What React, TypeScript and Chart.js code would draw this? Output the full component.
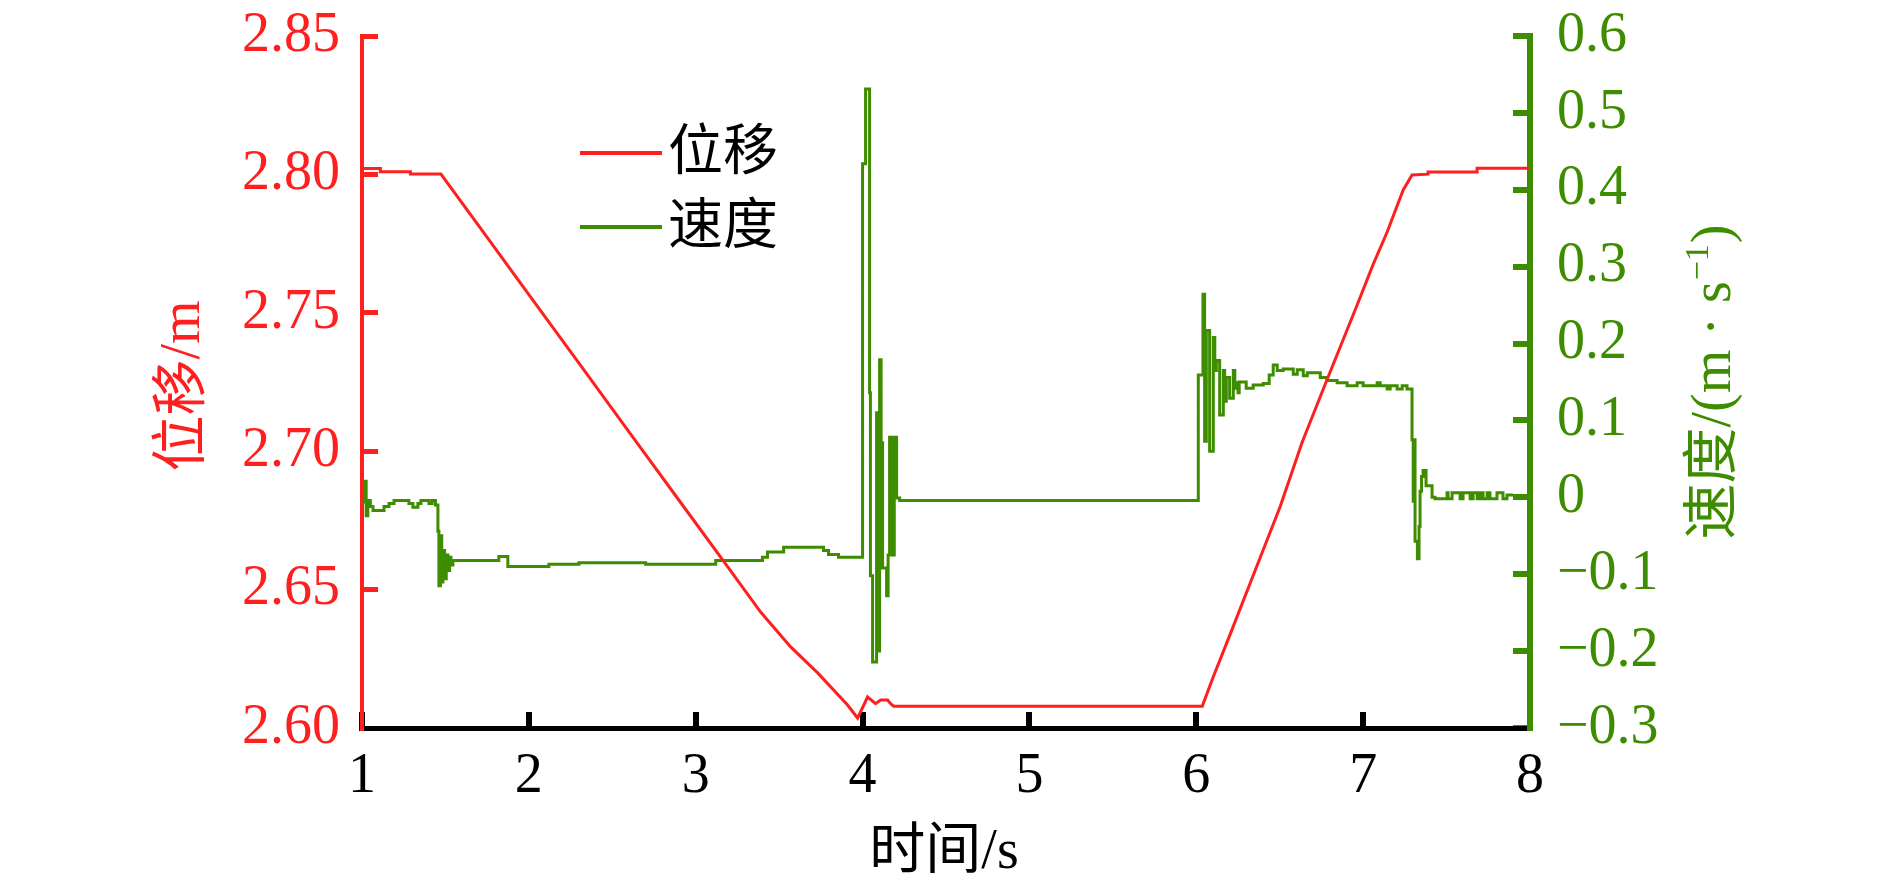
import React, { useEffect, useRef } from "react";
import { Chart, registerables } from "chart.js";

Chart.register(...registerables);

// ---------- data ----------
const timeTicks = [1, 2, 3, 4, 5, 6, 7, 8];
const dispTicks = [2.6, 2.65, 2.7, 2.75, 2.8, 2.85];
const velTicks = [-0.3, -0.2, -0.1, 0, 0.1, 0.2, 0.3, 0.4, 0.5, 0.6];

// displacement (m)
const dispT = [
  1.0, 1.11, 1.11, 1.29, 1.29, 1.473, 1.713, 2.012, 2.311, 2.611, 2.97, 3.192, 3.389,
  3.569, 3.731, 3.91, 3.97, 4.03, 4.078, 4.108, 4.15, 4.168, 4.186, 6.036, 6.102,
  6.204, 6.335, 6.503, 6.635, 6.784, 6.964, 7.06, 7.144, 7.24, 7.293, 7.389, 7.389,
  7.683, 7.683, 8.0,
];
const dispV = [
  2.8021, 2.8021, 2.801, 2.801, 2.8001, 2.8001, 2.7803, 2.7556, 2.7309, 2.7061, 2.6765,
  2.6582, 2.6419, 2.6293, 2.6199, 2.6083, 2.6036, 2.6112, 2.6088, 2.6101, 2.6101,
  2.6088, 2.6079, 2.6079, 2.6185, 2.634, 2.6542, 2.68, 2.7033, 2.7259, 2.7528,
  2.7675, 2.7792, 2.7944, 2.7998, 2.8001, 2.8009, 2.8009, 2.8022, 2.8022,
];

// velocity (m/s)
const velT = [
  1.0, 1.015, 1.025, 1.035, 1.05, 1.066, 1.132, 1.162, 1.192, 1.281, 1.305, 1.335,
  1.353, 1.401, 1.42, 1.44, 1.455, 1.461, 1.47, 1.478, 1.485, 1.495, 1.505, 1.515,
  1.525, 1.533, 1.545, 1.82, 1.874, 2.12, 2.3, 2.7, 3.12, 3.4, 3.43, 3.527, 3.766,
  3.796, 3.856, 4.0, 4.018, 4.042, 4.047, 4.06, 4.084, 4.093, 4.102, 4.111, 4.12,
  4.144, 4.153, 4.162, 4.176, 4.19, 4.204, 4.222, 6.012, 6.04, 6.05, 6.06, 6.08,
  6.102, 6.111, 6.12, 6.14, 6.162, 6.17, 6.18, 6.2, 6.222, 6.231, 6.24, 6.25, 6.257,
  6.299, 6.341, 6.401, 6.437, 6.461, 6.485, 6.521, 6.581, 6.605, 6.641, 6.665, 6.743,
  6.784, 6.844, 6.904, 6.964, 7.0, 7.084, 7.102, 7.144, 7.162, 7.204, 7.234, 7.263,
  7.293, 7.3, 7.305, 7.311, 7.325, 7.335, 7.341, 7.35, 7.359, 7.377, 7.413, 7.431,
  7.503, 7.509, 7.533, 7.581, 7.599, 7.641, 7.659, 7.683, 7.701, 7.719, 7.743, 7.76,
  7.802, 7.838, 7.862, 7.898, 8.0,
];
const velV = [
  -0.006, 0.021, -0.024, -0.004, -0.012, -0.017, -0.012, -0.008, -0.004, -0.008,
  -0.013, -0.008, -0.004, -0.008, -0.004, -0.01, -0.044, -0.115, -0.05, -0.11, -0.069,
  -0.106, -0.075, -0.095, -0.078, -0.088, -0.082, -0.077, -0.09, -0.087, -0.085,
  -0.087, -0.082, -0.078, -0.071, -0.065, -0.069, -0.0745, -0.078, 0.434, 0.531, 0.136,
  -0.102, -0.214, 0.11, -0.2, 0.179, 0.071, -0.092, -0.128, -0.075, 0.078, -0.075,
  0.078, -0.001, -0.004, 0.159, 0.264, 0.073, 0.217, 0.06, 0.208, 0.165, 0.178, 0.107,
  0.165, 0.125, 0.156, 0.129, 0.165, 0.142, 0.149, 0.136, 0.15, 0.142, 0.146, 0.148,
  0.159, 0.172, 0.165, 0.167, 0.16, 0.166, 0.158, 0.162, 0.156, 0.152, 0.149, 0.145,
  0.149, 0.145, 0.149, 0.145, 0.141, 0.145, 0.141, 0.145, 0.141, 0.075, -0.005, 0.075,
  -0.057, -0.08, -0.038, 0.008, 0.027, 0.035, 0.015, 0.0, -0.002, 0.006, -0.002,
  0.006, -0.002, 0.006, -0.002, 0.006, -0.002, 0.006, -0.002, 0.006, -0.002, 0.006,
  -0.002, 0.003, 0.003,
];

const seriesNames = ["位移", "速度"];
const axisTitles = { x: "时间/s", left: "位移/m", rightMain: "速度/(m · s", rightSup: "−1", rightEnd: ")" };

// ---------- styles ----------
const RED = "#ff1f1f";
const GREEN = "#3e8c00";
const FONT = "'Liberation Serif', 'Noto Sans CJK SC', serif";

const fmtVel = (v: number) => {
  if (Math.abs(v) < 1e-9) return "0";
  return v < 0 ? "−" + Math.abs(v).toFixed(1) : v.toFixed(1);
};

const overlayPlugin = {
  id: "overlay",
  afterDraw(chart: any) {
    const ctx = chart.ctx as CanvasRenderingContext2D;
    const ca = chart.chartArea;
    ctx.save();
    // legend
    const colors = [RED, GREEN];
    const legendYs = [ca.top + 117, ca.top + 191];
    seriesNames.forEach((name, i) => {
      const y = legendYs[i];
      ctx.strokeStyle = colors[i];
      ctx.lineWidth = 4;
      ctx.beginPath();
      ctx.moveTo(ca.left + 218, y);
      ctx.lineTo(ca.left + 300, y);
      ctx.stroke();
      ctx.fillStyle = "#000";
      ctx.font = `55px ${FONT}`;
      ctx.textBaseline = "middle";
      ctx.textAlign = "left";
      ctx.fillText(name, ca.left + 306, y + 2);
    });

    // x title
    ctx.fillStyle = "#000";
    ctx.font = `56px ${FONT}`;
    ctx.textAlign = "center";
    ctx.textBaseline = "middle";
    ctx.fillText(axisTitles.x, (ca.left + ca.right) / 2 - 2, 853);

    // left title
    ctx.save();
    ctx.translate(184, 386);
    ctx.rotate(-Math.PI / 2);
    ctx.fillStyle = RED;
    ctx.fillText(axisTitles.left, 0, 0);
    ctx.restore();

    // right title with superscript
    ctx.save();
    ctx.translate(1711, 383);
    ctx.rotate(-Math.PI / 2);
    ctx.fillStyle = GREEN;
    ctx.textAlign = "left";
    ctx.textBaseline = "alphabetic";
    const big = `56px ${FONT}`;
    const small = `34px ${FONT}`;
    ctx.font = big;
    const w1 = ctx.measureText(axisTitles.rightMain).width;
    const w3 = ctx.measureText(axisTitles.rightEnd).width;
    ctx.font = small;
    const w2 = ctx.measureText(axisTitles.rightSup).width;
    let x = -(w1 + w2 + w3) / 2;
    const base = 19;
    ctx.font = big;
    ctx.fillText(axisTitles.rightMain, x, base);
    x += w1;
    ctx.font = small;
    ctx.fillText(axisTitles.rightSup, x + 1, base - 22);
    x += w2 + 2;
    ctx.font = big;
    ctx.fillText(axisTitles.rightEnd, x, base);
    ctx.restore();

    ctx.restore();
  },
};

const zeroPad = (s: any) => {
  s.paddingTop = 0;
  s.paddingBottom = 0;
};

export default function App() {
  const ref = useRef<HTMLCanvasElement>(null);

  useEffect(() => {
    const dispData = dispT.map((t, i) => ({ x: t, y: dispV[i] }));
    const velData = velT.map((t, i) => ({ x: t, y: velV[i] }));
    const chart = new Chart(ref.current as HTMLCanvasElement, {
      type: "line",
      data: {
        datasets: [
          {
            label: seriesNames[0],
            data: dispData,
            yAxisID: "y",
            borderColor: RED,
            borderWidth: 3,
            pointRadius: 0,
            tension: 0,
            fill: false,
          },
          {
            label: seriesNames[1],
            data: velData,
            yAxisID: "y1",
            borderColor: GREEN,
            borderWidth: 3,
            pointRadius: 0,
            stepped: true,
            fill: false,
          },
        ],
      },
      options: {
        animation: false,
        responsive: false,
        maintainAspectRatio: false,
        devicePixelRatio: 1,
        parsing: false as any,
        normalized: true,
        layout: { padding: { top: 36, left: 0, right: 0, bottom: 0 } },
        plugins: { legend: { display: false }, tooltip: { enabled: false } },
        scales: {
          x: {
            type: "linear",
            min: timeTicks[0],
            max: timeTicks[timeTicks.length - 1],
            afterBuildTicks: (s: any) => {
              s.ticks = timeTicks.map((v) => ({ value: v }));
            },
            ticks: {
              color: "#000",
              font: { family: FONT, size: 56 },
              padding: 32,
              maxRotation: 0,
              autoSkip: false,
              callback: (v: any) => String(v),
            },
            grid: { drawOnChartArea: false, tickLength: -16, tickWidth: 6, tickColor: "#000", lineWidth: 6 },
            border: { color: "#000", width: 5 },
            afterFit: (s: any) => {
              s.height = 159;
              s.paddingLeft = 0;
              s.paddingRight = 0;
            },
          },
          y: {
            type: "linear",
            position: "left",
            min: dispTicks[0],
            max: dispTicks[dispTicks.length - 1],
            afterBuildTicks: (s: any) => {
              s.ticks = dispTicks.map((v) => ({ value: v }));
            },
            ticks: {
              color: RED,
              font: { family: FONT, size: 56 },
              padding: 38,
              autoSkip: false,
              callback: (v: any) => Number(v).toFixed(2),
            },
            grid: { drawOnChartArea: false, tickLength: -16, tickWidth: 5, tickColor: RED, lineWidth: 5 },
            border: { color: RED, width: 4 },
            afterFit: (s: any) => {
              s.width = 362;
              zeroPad(s);
            },
          },
          y1: {
            type: "linear",
            position: "right",
            min: velTicks[0],
            max: velTicks[velTicks.length - 1],
            afterBuildTicks: (s: any) => {
              s.ticks = velTicks.map((v) => ({ value: v }));
            },
            ticks: {
              color: GREEN,
              font: { family: FONT, size: 56 },
              padding: 44,
              autoSkip: false,
              callback: (v: any) => fmtVel(Number(v)),
            },
            grid: { drawOnChartArea: false, tickLength: -17, tickWidth: 6, tickColor: GREEN, lineWidth: 6 },
            border: { color: GREEN, width: 6 },
            afterFit: (s: any) => {
              s.width = 360;
              zeroPad(s);
            },
          },
        },
      } as any,
      plugins: [overlayPlugin],
    });
    return () => chart.destroy();
  }, []);

  return (
    <div style={{ position: "absolute", left: 0, top: 0, width: 1890, height: 887, background: "#fff" }}>
      <canvas ref={ref} width={1890} height={887} style={{ display: "block" }} />
    </div>
  );
}
